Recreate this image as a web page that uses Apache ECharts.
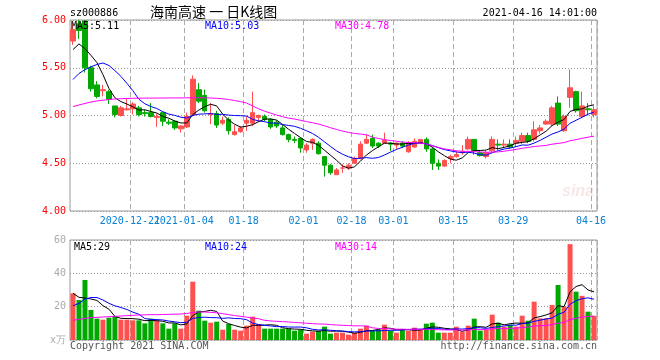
<!DOCTYPE html>
<html>
<head>
<meta charset="utf-8">
<script src="https://cdn.jsdelivr.net/npm/echarts@6/dist/echarts.min.js"></script>
<style>html,body{margin:0;padding:0;background:#fff;}#chart{width:660px;height:360px;}</style>
</head>
<body>
<div id="chart"></div>
<script>
// ---- data ----
const dates = ['2020-12-07','2020-12-08','2020-12-09','2020-12-10','2020-12-11','2020-12-14','2020-12-15','2020-12-16','2020-12-17','2020-12-18',
'2020-12-21','2020-12-22','2020-12-23','2020-12-24','2020-12-25','2020-12-28','2020-12-29','2020-12-30','2020-12-31',
'2021-01-04','2021-01-05','2021-01-06','2021-01-07','2021-01-08','2021-01-11','2021-01-12','2021-01-13','2021-01-14','2021-01-15',
'2021-01-18','2021-01-19','2021-01-20','2021-01-21','2021-01-22','2021-01-25','2021-01-26','2021-01-27','2021-01-28','2021-01-29',
'2021-02-01','2021-02-02','2021-02-03','2021-02-04','2021-02-05','2021-02-08','2021-02-09','2021-02-10','2021-02-18','2021-02-19',
'2021-02-22','2021-02-23','2021-02-24','2021-02-25','2021-02-26','2021-03-01','2021-03-02','2021-03-03','2021-03-04','2021-03-05',
'2021-03-08','2021-03-09','2021-03-10','2021-03-11','2021-03-12','2021-03-15','2021-03-16','2021-03-17','2021-03-18','2021-03-19',
'2021-03-22','2021-03-23','2021-03-24','2021-03-25','2021-03-26','2021-03-29','2021-03-30','2021-03-31','2021-04-01','2021-04-02',
'2021-04-06','2021-04-07','2021-04-08','2021-04-09','2021-04-12','2021-04-13','2021-04-14','2021-04-15','2021-04-16'];

const openP = [5.78,5.96,5.99,5.50,5.32,5.26,5.25,5.10,5.00,5.06,5.07,5.08,5.03,5.03,4.98,5.03,4.93,4.94,4.86,4.88,
5.01,5.27,5.21,5.01,5.02,4.92,4.96,4.80,4.83,4.92,4.92,4.98,4.99,4.96,4.93,4.87,4.80,4.75,4.76,4.64,
4.71,4.71,4.57,4.48,4.38,4.45,4.45,4.50,4.55,4.71,4.76,4.71,4.71,4.71,4.69,4.71,4.62,4.67,4.71,4.75,
4.65,4.50,4.47,4.55,4.57,4.61,4.65,4.75,4.61,4.57,4.63,4.70,4.69,4.70,4.71,4.73,4.79,4.75,4.84,4.91,
4.91,5.13,4.84,5.19,5.25,4.99,5.07,5.01];
const closeP = [5.90,5.89,5.50,5.28,5.20,5.27,5.17,5.01,5.08,5.07,5.12,5.01,5.02,4.99,4.99,4.94,4.92,4.87,4.89,4.99,
5.38,5.15,5.05,5.02,4.90,4.95,4.84,4.83,4.87,4.95,5.03,5.00,4.96,4.88,4.89,4.80,4.75,4.74,4.66,4.69,
4.75,4.60,4.48,4.40,4.43,4.45,4.48,4.55,4.70,4.75,4.68,4.68,4.74,4.70,4.71,4.68,4.71,4.73,4.75,4.65,
4.50,4.47,4.53,4.57,4.59,4.62,4.75,4.63,4.58,4.61,4.75,4.69,4.70,4.67,4.74,4.79,4.73,4.85,4.87,4.94,
5.08,4.91,4.99,5.29,5.05,5.10,5.06,5.06];
const lowP = [5.74,5.80,5.45,5.25,5.18,5.20,5.12,4.98,4.99,5.05,5.01,4.99,4.99,4.98,4.88,4.89,4.90,4.85,4.82,4.87,
4.99,5.13,5.03,4.91,4.87,4.90,4.80,4.79,4.82,4.84,4.89,4.93,4.94,4.86,4.87,4.79,4.72,4.71,4.61,4.61,
4.64,4.59,4.36,4.38,4.38,4.40,4.43,4.50,4.54,4.70,4.66,4.66,4.71,4.63,4.65,4.66,4.61,4.66,4.70,4.62,
4.43,4.43,4.46,4.50,4.56,4.59,4.64,4.59,4.57,4.55,4.61,4.64,4.66,4.65,4.67,4.70,4.71,4.73,4.81,4.90,
4.89,4.89,4.83,5.08,5.03,4.98,5.00,4.98];
const highP = [5.97,6.00,6.00,5.52,5.36,5.32,5.27,5.10,5.10,5.18,5.14,5.10,5.06,5.13,5.02,5.03,4.96,4.95,4.90,5.03,
5.42,5.34,5.27,5.13,5.05,4.99,4.98,4.90,4.89,4.99,5.25,5.01,5.01,4.97,4.95,4.90,4.81,4.78,4.77,4.71,
4.76,4.73,4.57,4.49,4.45,4.49,4.50,4.57,4.73,4.80,4.80,4.72,4.82,4.72,4.72,4.73,4.73,4.76,4.75,4.77,
4.67,4.54,4.54,4.59,4.63,4.69,4.78,4.75,4.63,4.63,4.78,4.75,4.75,4.75,4.78,4.82,4.82,4.94,4.90,4.96,
5.10,5.20,5.01,5.48,5.26,5.25,5.13,5.10];

const ma5 = [5.69,5.75,5.70,5.63,5.554,5.428,5.284,5.186,5.146,5.12,5.09,5.058,5.06,5.042,5.026,4.99,4.972,4.942,4.922,4.922,
5.01,5.056,5.092,5.118,5.10,5.014,4.952,4.908,4.878,4.888,4.904,4.936,4.962,4.964,4.952,4.906,4.856,4.812,4.768,4.728,
4.718,4.688,4.636,4.584,4.532,4.472,4.448,4.462,4.522,4.586,4.632,4.672,4.71,4.71,4.702,4.702,4.708,4.706,4.716,4.704,
4.668,4.62,4.58,4.544,4.532,4.556,4.612,4.632,4.634,4.638,4.664,4.652,4.666,4.684,4.71,4.718,4.726,4.756,4.796,4.836,
4.894,4.93,4.958,5.042,5.064,5.068,5.098,5.112];
const ma10 = [5.377,5.44,5.48,5.51,5.534,5.55,5.524,5.47,5.41,5.337,5.259,5.171,5.123,5.094,5.073,5.04,5.015,5.001,4.982,4.974,
5.00,5.014,5.017,5.02,5.011,5.012,5.004,5.00,4.998,4.994,4.959,4.944,4.935,4.921,4.92,4.905,4.896,4.887,4.866,4.84,
4.812,4.772,4.724,4.676,4.63,4.595,4.568,4.549,4.553,4.559,4.552,4.56,4.586,4.616,4.644,4.667,4.69,4.708,4.713,4.703,
4.685,4.664,4.643,4.63,4.618,4.612,4.616,4.606,4.589,4.585,4.61,4.632,4.649,4.659,4.674,4.691,4.689,4.711,4.74,4.773,
4.806,4.828,4.857,4.919,4.95,4.981,5.014,5.035];
const ma30 = [5.094,5.11,5.126,5.141,5.152,5.16,5.168,5.173,5.176,5.178,5.18,5.181,5.182,5.182,5.183,5.183,5.184,5.184,5.184,5.185,
5.186,5.186,5.185,5.183,5.18,5.175,5.167,5.157,5.145,5.13,5.10,5.07,5.045,5.025,5.005,4.988,4.972,4.963,4.949,4.936,
4.924,4.91,4.892,4.872,4.854,4.837,4.823,4.812,4.806,4.798,4.774,4.759,4.748,4.738,4.731,4.722,4.718,4.715,4.711,4.701,
4.683,4.665,4.651,4.641,4.631,4.625,4.625,4.621,4.618,4.616,4.616,4.619,4.626,4.635,4.645,4.657,4.665,4.675,4.681,4.687,
4.70,4.708,4.716,4.736,4.747,4.761,4.773,4.784];

const volume = [28,24,36,18,12.8,12.2,13.4,14.4,12.2,12.2,11.8,11.8,10,12.8,11.6,10,6.8,10,6.8,14.6,
35,17.6,11.6,10.4,11,6.2,9.6,6.2,5.6,8.6,14,9.6,6.8,6.8,6.8,6.8,6.8,5.6,6.2,3.8,
5,5.6,8,3.8,4.4,4.4,3.2,4.4,6.8,8.6,5.6,6.2,9.2,5.6,4.4,6.2,5.6,7.4,6.2,9.8,
10.4,4.4,4.4,4.4,8,5,8.6,12.8,5.6,6.2,15.2,10.4,8,9.2,8,14.6,11.6,23,13,13,
21,33,20,57.5,29,26.5,17,14.5];
const volMa5 = [28.0,25.6,25.2,24.6,23.76,20.6,18.48,14.16,13.0,12.88,12.8,12.48,11.6,11.72,11.6,11.24,10.24,10.24,9.04,9.64,
14.64,16.8,17.12,17.84,17.12,11.36,9.76,8.68,7.72,7.24,8.8,8.8,8.92,9.16,8.8,7.36,6.8,6.56,6.44,5.84,
5.48,5.24,5.72,5.24,5.36,5.24,4.76,4.04,4.64,5.48,5.72,6.32,7.28,7.04,6.2,6.32,6.2,5.84,5.96,7.04,
7.88,7.64,7.04,6.68,6.32,5.24,6.08,7.76,8.0,7.64,9.68,10.04,9.08,9.8,10.16,10.04,10.28,13.28,14.04,15.04,
16.32,20.6,20.0,28.9,32.1,33.2,30.0,28.9];
const volMa10 = [20.5,22.0,24.5,25.5,25.5,24.0,22.0,20.5,19.5,18.32,16.7,15.48,12.88,12.36,12.24,12.02,11.36,10.92,10.38,10.62,
12.94,13.52,13.68,13.44,13.38,13.0,13.28,12.9,12.78,12.18,10.08,9.28,8.8,8.44,8.02,8.08,7.8,7.74,7.8,7.32,
6.42,6.02,6.14,5.84,5.6,5.36,5.0,4.88,4.94,5.42,5.48,5.54,5.66,5.84,5.84,6.02,6.26,6.56,6.5,6.62,
7.1,6.92,6.44,6.32,6.68,6.56,6.86,7.4,7.34,6.98,7.46,8.06,8.42,8.9,8.9,9.86,10.16,11.18,11.92,12.6,
13.18,15.44,16.64,21.47,23.57,24.76,25.3,24.45];
const volMa30 = [11.8,12.4,13.0,13.4,13.6,13.8,14.0,14.2,14.4,14.6,14.8,15.0,15.1,15.2,15.2,15.3,15.4,15.5,15.6,15.9,
16.5,16.8,16.8,16.6,16.3,15.8,15.2,14.7,14.2,13.71,13.24,12.76,11.79,11.41,11.21,11.03,10.81,10.52,10.32,10.04,
9.81,9.61,9.54,9.24,9.0,8.81,8.69,8.51,8.51,8.31,7.33,6.95,6.87,6.71,6.49,6.49,6.35,6.39,6.41,6.45,
6.33,6.16,6.08,6.0,6.04,5.98,6.04,6.28,6.26,6.34,6.68,6.84,6.84,7.02,7.14,7.48,7.76,8.38,8.59,8.73,
9.25,10.14,10.5,12.23,13.05,13.73,14.11,14.34];

const tickDates = ['2020-12-21','2021-01-04','2021-01-18','2021-02-01','2021-02-18','2021-03-01','2021-03-15','2021-03-29','2021-04-16'];
const tickTexts = ['2020-12-21','2021-01-04','01-18','02-01','02-18','03-01','03-15','03-29','04-16'];
// labels that collide with a neighbour go on a second, label-only axis
const secondRowDates = ['2021-01-04'];

// ---- chart ----
const UP = '#ff5050', DOWN = '#00a800';
const MONO = '"DejaVu Sans Mono", "Liberation Mono", monospace';
const chart = echarts.init(document.getElementById('chart'), null, {renderer: 'canvas'});

const kData = dates.map((d, i) => [openP[i], closeP[i], lowP[i], highP[i]]);
const volData = volume.map((v, i) => ({
  value: v,
  itemStyle: {color: closeP[i] >= openP[i] ? UP : DOWN}
}));
const isTick = (idx) => tickDates.indexOf(dates[idx]) >= 0;
const isSecond = (idx) => secondRowDates.indexOf(dates[idx]) >= 0;

const vSplit = {show: true, interval: (idx) => isTick(idx), lineStyle: {color: '#aaaaaa', type: [5, 3], width: 1}};
const hSplit = {show: true, lineStyle: {color: '#999999', type: [1, 2], width: 1}};
const xLabelStyle = {formatter: (v) => tickTexts[tickDates.indexOf(v)] || '',
  color: '#0a80d4', fontFamily: MONO, fontSize: 10, margin: 5, padding: [0, 6, 0, 0], hideOverlap: false};

function txt(x, y, text, fill, align, font) {
  return {type: 'text', x: x, y: y, z: 100,
    style: {text: text, fill: fill, font: font || ('10px ' + MONO),
      align: align || 'left', verticalAlign: 'middle', textAlign: align || 'left', textVerticalAlign: 'middle'}};
}

const option = {
  animation: false,
  backgroundColor: '#ffffff',
  grid: [
    {left: 70, top: 20, width: 527, height: 191, show: true, borderColor: '#999999', borderWidth: 1},
    {left: 70, top: 240, width: 527, height: 100, show: true, borderColor: '#999999', borderWidth: 1}
  ],
  xAxis: [
    {type: 'category', gridIndex: 0, data: dates, boundaryGap: true, position: 'bottom',
      axisLine: {show: false}, axisTick: {show: false},
      axisLabel: Object.assign({interval: (idx) => isTick(idx) && !isSecond(idx)}, xLabelStyle),
      splitLine: vSplit},
    {type: 'category', gridIndex: 1, data: dates, boundaryGap: true,
      axisLine: {show: false}, axisTick: {show: false}, axisLabel: {show: false},
      splitLine: vSplit},
    {type: 'category', gridIndex: 0, data: dates, boundaryGap: true, position: 'bottom', offset: 0,
      axisLine: {show: false}, axisTick: {show: false}, splitLine: {show: false},
      axisLabel: Object.assign({interval: (idx) => isSecond(idx)}, xLabelStyle)}
  ],
  yAxis: [
    {type: 'value', gridIndex: 0, min: 4, max: 6, interval: 0.5,
      axisLine: {show: false}, axisTick: {show: false},
      axisLabel: {formatter: (v) => v.toFixed(2), color: '#ff0000', fontFamily: MONO, fontSize: 10, margin: 4},
      splitLine: hSplit},
    {type: 'value', gridIndex: 1, min: 0, max: 60, interval: 20,
      axisLine: {show: false}, axisTick: {show: false},
      axisLabel: {formatter: (v) => v === 0 ? 'x万' : String(v), color: '#aaaaaa', fontFamily: MONO, fontSize: 10, margin: 4},
      splitLine: hSplit}
  ],
  series: [
    {type: 'candlestick', xAxisIndex: 0, yAxisIndex: 0, data: kData, barWidth: 5,
      itemStyle: {color: UP, color0: DOWN, borderColor: UP, borderColor0: DOWN, borderWidth: 1}},
    {type: 'line', xAxisIndex: 0, yAxisIndex: 0, data: ma5, symbol: 'none', lineStyle: {color: '#000000', width: 1}},
    {type: 'line', xAxisIndex: 0, yAxisIndex: 0, data: ma10, symbol: 'none', lineStyle: {color: '#0000ff', width: 1}},
    {type: 'line', xAxisIndex: 0, yAxisIndex: 0, data: ma30, symbol: 'none', lineStyle: {color: '#ff00ff', width: 1}},
    {type: 'bar', xAxisIndex: 1, yAxisIndex: 1, data: volData, barWidth: 5},
    {type: 'line', xAxisIndex: 1, yAxisIndex: 1, data: volMa5, symbol: 'none', lineStyle: {color: '#000000', width: 1}},
    {type: 'line', xAxisIndex: 1, yAxisIndex: 1, data: volMa10, symbol: 'none', lineStyle: {color: '#0000ff', width: 1}},
    {type: 'line', xAxisIndex: 1, yAxisIndex: 1, data: volMa30, symbol: 'none', lineStyle: {color: '#ff00ff', width: 1}}
  ],
  graphic: [
    txt(70, 13, 'sz000886', '#000000'),
    txt(150, 12, '海南高速 一 日K线图', '#000000', 'left', '14px "Noto Sans CJK SC", sans-serif'),
    txt(597, 13, '2021-04-16 14:01:00', '#000000', 'right'),
    txt(71, 26, 'MA5:5.11', '#000000'),
    txt(205, 26, 'MA10:5.03', '#0000ff'),
    txt(335, 26, 'MA30:4.78', '#ff00ff'),
    txt(74, 247, 'MA5:29', '#000000'),
    txt(205, 247, 'MA10:24', '#0000ff'),
    txt(335, 247, 'MA30:14', '#ff00ff'),
    txt(70, 346, 'Copyright 2021 SINA.COM', '#555555'),
    txt(597, 346, 'http://finance.sina.com.cn', '#555555', 'right'),
    {type: 'text', x: 578, y: 192, z: 1,
      style: {text: 'sina', fill: 'rgba(225,170,170,0.28)', font: 'italic bold 16px "Liberation Sans", sans-serif',
        align: 'center', verticalAlign: 'middle', textAlign: 'center', textVerticalAlign: 'middle'}}
  ]
};
chart.setOption(option);
</script>
</body>
</html>
